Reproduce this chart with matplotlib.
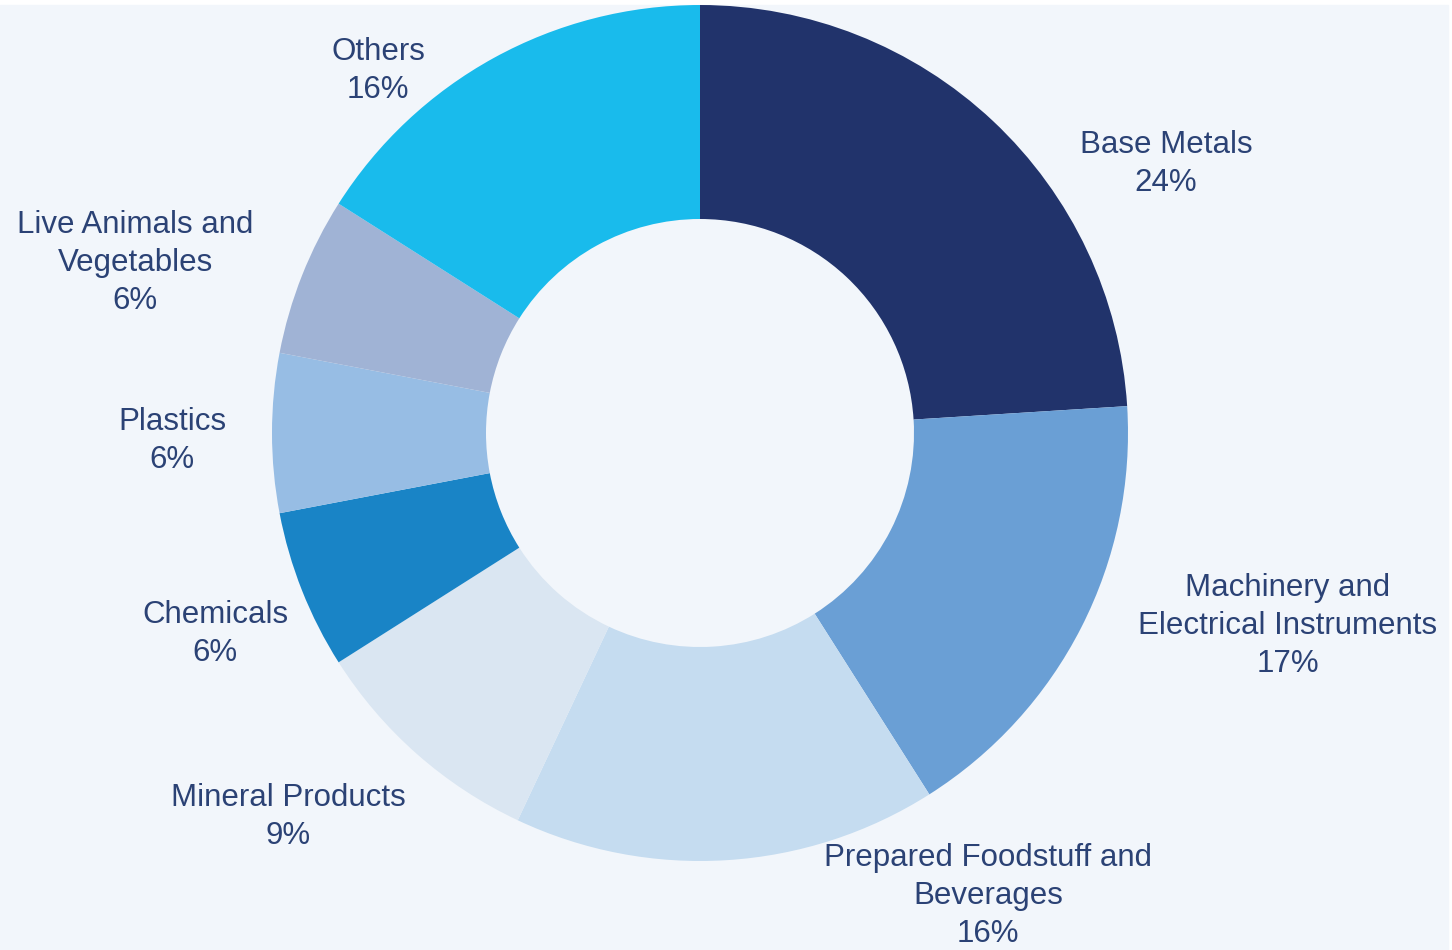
import matplotlib.pyplot as plt
import matplotlib.patches as mpatches

# data
labels = ["Base Metals", "Machinery and\nElectrical Instruments",
          "Prepared Foodstuff and\nBeverages", "Mineral Products",
          "Chemicals", "Plastics", "Live Animals and\nVegetables", "Others"]
shares = [24, 17, 16, 9, 6, 6, 6, 16]
colors = ["#21336B", "#6A9FD5", "#C5DCF0", "#DAE6F2",
          "#1984C6", "#97BDE4", "#A0B3D5", "#19BBEC"]

# label spots (pixels, y from top)
label_xy = [(1166, 164), (1288, 626), (988, 896), (288, 817),
            (215, 634), (172, 441), (135, 263), (378, 71)]

W, H = 1452, 950
bg = "#F2F6FB"
txt = "#2B4275"

fig = plt.figure(figsize=(W / 100, H / 100), dpi=100)
fig.patch.set_facecolor("white")
ax = fig.add_axes([0, 0, 1, 1])
ax.set_facecolor("white")

# light panel, white rim on top and right
ax.add_patch(mpatches.Rectangle((0, 0), W - 4, H - 5, color=bg, zorder=0))

cx, cy, r = 700, H - 433, 428
wedges, _ = ax.pie(shares, colors=colors, startangle=90, counterclock=False,
                   center=(cx, cy), radius=r,
                   wedgeprops=dict(width=r * 0.5, linewidth=0))

for lab, val, (x, y) in zip(labels, shares, label_xy):
    ax.text(x, H - y, "%s\n%d%%" % (lab, val), ha="center", va="center",
            fontsize=22.5, color=txt, family="Liberation Sans",
            linespacing=1.33)

ax.set_xlim(0, W)
ax.set_ylim(0, H)
ax.set_aspect("equal")
ax.axis("off")

fig.savefig("out.png", dpi=100, facecolor="white")
